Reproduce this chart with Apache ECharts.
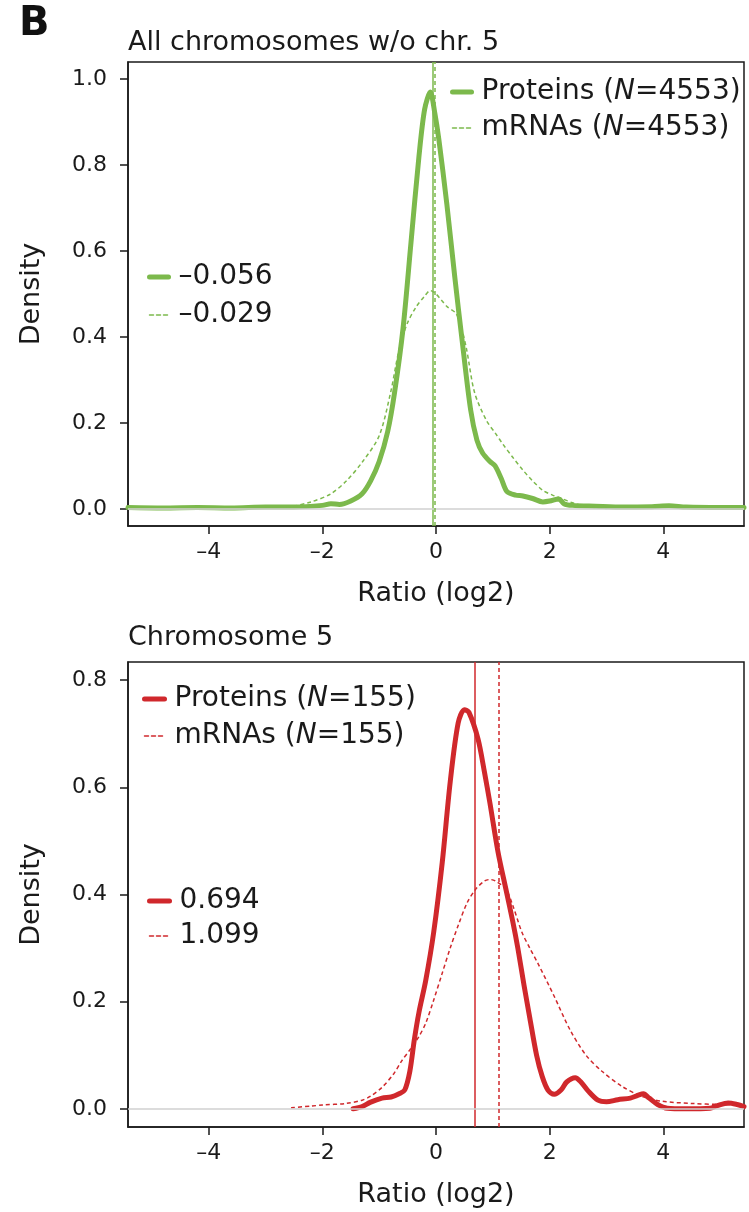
<!DOCTYPE html>
<html lang="en">
<head>
    <meta charset="UTF-8" />
    <title>Density</title>
    <script src="https://cdn.jsdelivr.net/npm/echarts@6/dist/echarts.min.js"></script>
</head>
<body style="margin:0">
    <div id="main" style="width: 749px; height: 1212px"></div>
    <script>
        // top panel - all chromosomes w/o chr. 5
        var topProtX = [-5.42, -4.8, -4.2, -3.6, -3.0, -2.5, -2.0, -1.85, -1.7, -1.5, -1.3, -1.15, -1.0, -0.85, -0.73, -0.58, -0.44, -0.3, -0.2, -0.1, -0.02, 0.05, 0.19, 0.33, 0.47, 0.61, 0.72, 0.82, 0.95, 1.04, 1.15, 1.25, 1.4, 1.53, 1.7, 1.88, 2.0, 2.16, 2.25, 2.4, 2.8, 3.3, 3.8, 4.1, 4.4, 5.0, 5.42];
        var topProtY = [0.003, 0.002, 0.003, 0.002, 0.004, 0.004, 0.008, 0.012, 0.01, 0.018, 0.035, 0.065, 0.11, 0.18, 0.27, 0.42, 0.62, 0.82, 0.93, 0.97, 0.92, 0.86, 0.71, 0.54, 0.38, 0.23, 0.16, 0.13, 0.11, 0.1, 0.07, 0.04, 0.032, 0.03, 0.024, 0.016, 0.018, 0.023, 0.012, 0.008, 0.006, 0.004, 0.005, 0.007, 0.004, 0.003, 0.003];
        var topMrnaX = [-3.0, -2.56, -2.2, -1.85, -1.57, -1.29, -1.0, -0.8, -0.65, -0.51, -0.35, -0.2, -0.1, 0.0, 0.1, 0.2, 0.35, 0.45, 0.54, 0.68, 0.89, 1.05, 1.18, 1.35, 1.53, 1.7, 1.88, 2.05, 2.23, 2.4, 2.58, 2.8, 3.0];
        var topMrnaY = [0.002, 0.005, 0.016, 0.035, 0.066, 0.11, 0.17, 0.27, 0.37, 0.43, 0.47, 0.495, 0.508, 0.5, 0.485, 0.47, 0.455, 0.42, 0.37, 0.27, 0.205, 0.175, 0.15, 0.12, 0.09, 0.065, 0.043, 0.032, 0.023, 0.014, 0.008, 0.003, 0.001];
        var topMedians = [-0.056, -0.029];

        // bottom panel - chromosome 5
        var botProtX = [-1.46, -1.3, -1.16, -0.95, -0.79, -0.65, -0.55, -0.46, -0.38, -0.3, -0.18, -0.04, 0.11, 0.25, 0.39, 0.5, 0.58, 0.74, 0.85, 0.95, 1.09, 1.23, 1.35, 1.44, 1.55, 1.65, 1.77, 1.87, 1.97, 2.08, 2.2, 2.3, 2.45, 2.55, 2.68, 2.85, 3.0, 3.2, 3.42, 3.55, 3.65, 3.75, 3.9, 4.07, 4.4, 4.82, 4.95, 5.14, 5.3, 5.42];
        var botProtY = [0.0, 0.004, 0.012, 0.02, 0.022, 0.028, 0.035, 0.07, 0.13, 0.18, 0.24, 0.33, 0.46, 0.61, 0.72, 0.745, 0.74, 0.69, 0.63, 0.57, 0.48, 0.41, 0.35, 0.3, 0.23, 0.17, 0.1, 0.06, 0.035, 0.027, 0.035, 0.05, 0.058, 0.05, 0.033, 0.016, 0.013, 0.017, 0.02, 0.025, 0.028, 0.02, 0.008, 0.001, 0.0, 0.001, 0.006, 0.011, 0.008, 0.004];
        var botMrnaX = [-2.55, -2.2, -2.0, -1.58, -1.3, -1.16, -0.95, -0.74, -0.6, -0.46, -0.3, -0.18, -0.05, 0.1, 0.25, 0.4, 0.55, 0.7, 0.85, 0.95, 1.05, 1.23, 1.35, 1.51, 1.65, 1.8, 2.08, 2.36, 2.64, 2.92, 3.27, 3.63, 3.98, 4.5, 5.0, 5.42];
        var botMrnaY = [0.002, 0.005, 0.007, 0.01, 0.016, 0.023, 0.04, 0.066, 0.09, 0.11, 0.135, 0.16, 0.2, 0.25, 0.3, 0.345, 0.385, 0.41, 0.425, 0.428, 0.425, 0.41, 0.38, 0.33, 0.3, 0.27, 0.21, 0.147, 0.1, 0.07, 0.042, 0.023, 0.014, 0.01, 0.008, 0.007];
        var botMedians = [0.694, 1.099];

        var xTicks = [-4, -2, 0, 2, 4];
        var yTicksTop = [0, 0.2, 0.4, 0.6, 0.8, 1.0];
        var yTicksBot = [0, 0.2, 0.4, 0.6, 0.8];

        var green = "#7cb94c";
        var red = "#d0282c";
        var ink = "#1a1a1a";
        var font = "DejaVu Sans";

        function pairs(xs, ys) {
            return xs.map(function (x, i) { return [x, ys[i]]; });
        }
        function medLabel(v) {
            return (v < 0 ? "\u2013" : "") + Math.abs(v).toFixed(3);
        }

        function makeX(gi) {
            return {
                type: "value", gridIndex: gi, min: -5.42, max: 5.42,
                splitLine: { show: false },
                axisLine: { show: true, onZero: false, lineStyle: { color: ink, width: 1.5 } },
                axisTick: { customValues: xTicks, length: 8, lineStyle: { color: ink, width: 1.5 } },
                axisLabel: {
                    customValues: xTicks, margin: 15, color: ink, fontSize: 22, fontFamily: font,
                    formatter: function (v) { return v < 0 ? "\u2013" + Math.abs(v) : String(v); }
                },
                name: "Ratio (log2)", nameLocation: "middle", nameGap: 54,
                nameTextStyle: { color: ink, fontSize: 27, fontFamily: font }
            };
        }
        function makeY(gi, min, max, ticks) {
            return {
                type: "value", gridIndex: gi, min: min, max: max,
                splitLine: { show: false },
                axisLine: { show: true, onZero: false, lineStyle: { color: ink, width: 1.5 } },
                axisTick: { customValues: ticks, length: 8, lineStyle: { color: ink, width: 1.5 } },
                axisLabel: {
                    customValues: ticks, margin: 21, color: ink, fontSize: 22, fontFamily: font,
                    formatter: function (v) { return v.toFixed(1); }
                },
                name: "Density", nameLocation: "middle", nameGap: 83,
                nameTextStyle: { color: ink, fontSize: 27, fontFamily: font }
            };
        }

        function curve(name, gi, data, color, solid) {
            return {
                type: "line", name: name, xAxisIndex: gi, yAxisIndex: gi, z: 3,
                data: data, symbol: "none", smooth: 0.3,
                lineStyle: solid ? { color: color, width: 5, cap: "round", join: "round" }
                                 : { color: color, width: 1.5, type: [4, 3] },
                itemStyle: { color: color }
            };
        }
        function median(name, gi, value, color, solid, withZero) {
            var lines = [{ xAxis: value }];
            if (withZero) {
                lines.push({ yAxis: 0, lineStyle: { color: "#d0d0d0", width: 1.5, type: "solid" } });
            }
            return {
                type: "line", name: name, xAxisIndex: gi, yAxisIndex: gi, z: 1,
                data: [], symbol: "none",
                lineStyle: solid ? { color: color, width: 5, cap: "round" }
                                 : { color: color, width: 1.5, type: [4, 3] },
                itemStyle: { color: color },
                markLine: {
                    silent: true, symbol: ["none", "none"], label: { show: false },
                    lineStyle: { color: color, width: 1.5, type: solid ? "solid" : [4, 3] },
                    data: lines
                }
            };
        }

        var legendText = {
            color: ink, fontSize: 28, fontFamily: font, lineHeight: 30, padding: [0, 0, 0, 5],
            rich: { i: { fontStyle: "italic", color: ink, fontSize: 28, fontFamily: font, lineHeight: 30 } }
        };
        function legend(names, left, top, gap, w) {
            return {
                data: names, orient: "vertical", left: left, top: top, itemGap: gap,
                itemWidth: w, itemHeight: 12, selectedMode: false,
                lineStyle: { width: "inherit", type: "inherit", cap: "round" },
                itemStyle: { opacity: 0 },
                textStyle: legendText,
                formatter: function (n) { return n.replace("N=", "{i|N}="); }
            };
        }

        var chart = echarts.init(document.getElementById("main"));
        chart.setOption({
            backgroundColor: "#fff",
            animation: false,
            title: [
                { text: "B", left: 14, top: 0, textStyle: { color: "#111", fontSize: 40, fontWeight: "bold", fontFamily: font } },
                { text: "All chromosomes w/o chr. 5", left: 123, top: 24, textStyle: { color: ink, fontSize: 27, fontWeight: "normal", fontFamily: font } },
                { text: "Chromosome 5", left: 123, top: 619, textStyle: { color: ink, fontSize: 27, fontWeight: "normal", fontFamily: font } }
            ],
            grid: [
                { left: 128, top: 62, width: 616, height: 464, show: true, borderColor: ink, borderWidth: 1.5 },
                { left: 128, top: 662, width: 616, height: 465, show: true, borderColor: ink, borderWidth: 1.5 }
            ],
            xAxis: [makeX(0), makeX(1)],
            yAxis: [makeY(0, -0.04, 1.04, yTicksTop), makeY(1, -0.034, 0.834, yTicksBot)],
            legend: [
                legend(["Proteins (N=4553)", "mRNAs (N=4553)"], 445, 72, 6, 19),
                legend([medLabel(topMedians[0]), medLabel(topMedians[1])], 142, 257, 8, 19),
                legend(["Proteins (N=155)", "mRNAs (N=155)"], 137, 679, 7, 20),
                legend([medLabel(botMedians[0]), medLabel(botMedians[1])], 142, 881, 5, 20)
            ],
            series: [
                median(medLabel(topMedians[0]), 0, topMedians[0], green, true, true),
                median(medLabel(topMedians[1]), 0, topMedians[1], green, false, false),
                curve("Proteins (N=4553)", 0, pairs(topProtX, topProtY), green, true),
                curve("mRNAs (N=4553)", 0, pairs(topMrnaX, topMrnaY), green, false),
                median(medLabel(botMedians[0]), 1, botMedians[0], red, true, true),
                median(medLabel(botMedians[1]), 1, botMedians[1], red, false, false),
                curve("Proteins (N=155)", 1, pairs(botProtX, botProtY), red, true),
                curve("mRNAs (N=155)", 1, pairs(botMrnaX, botMrnaY), red, false)
            ]
        });
    </script>
</body>
</html>
